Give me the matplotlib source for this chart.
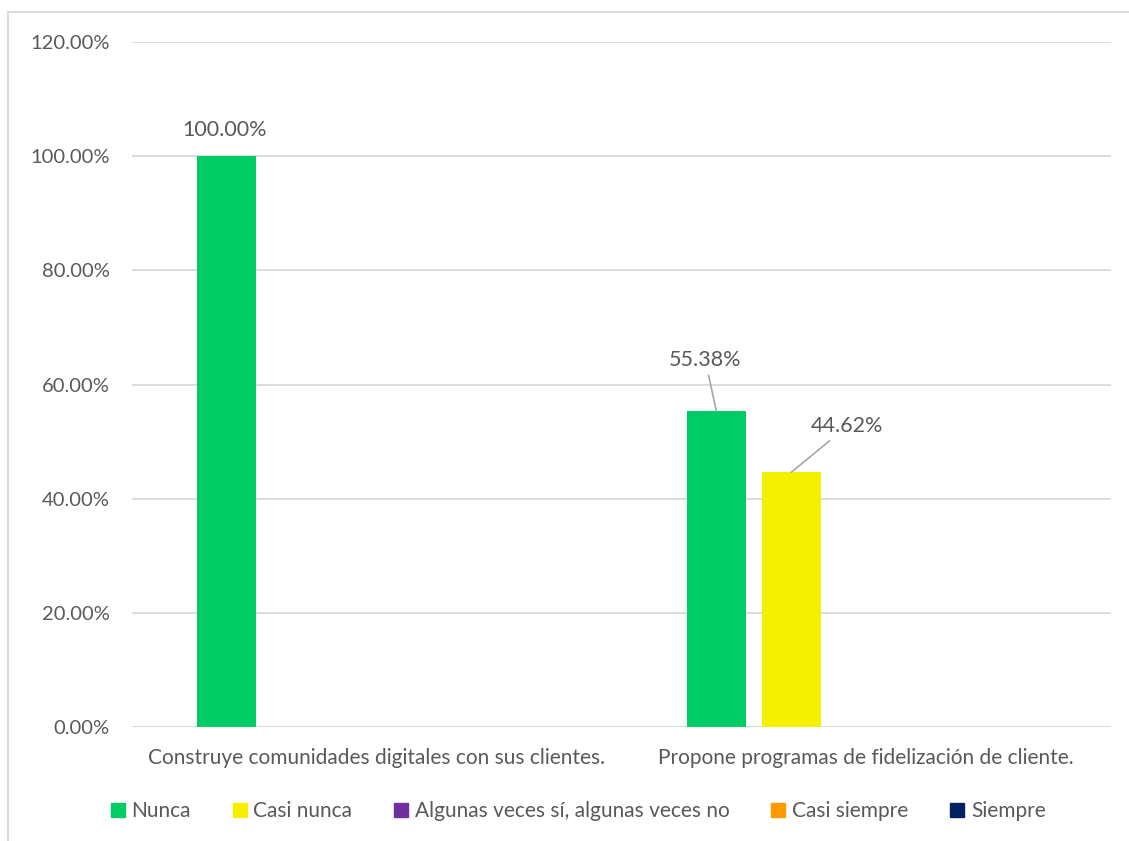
import numpy as np
import matplotlib.pyplot as plt
from matplotlib.lines import Line2D

categories = ["Construye comunidades digitales con sus clientes.",
              "Propone programas de fidelización de cliente."]
series = ["Nunca", "Casi nunca", "Algunas veces sí, algunas veces no",
          "Casi siempre", "Siempre"]
nunca = [100.00, 55.38]
casi_nunca = [0.00, 44.62]
algunas = [0.00, 0.00]
casi_siempre = [0.00, 0.00]
siempre = [0.00, 0.00]
colors = ["#00cc66", "#f5f000", "#7030a0", "#ff9900", "#002060"]
yticks = [0, 20, 40, 60, 80, 100, 120]

values = [nunca, casi_nunca, algunas, casi_siempre, siempre]
text_col = "#595959"
plt.rcParams['font.family'] = ['Lato', 'DejaVu Sans']

fig = plt.figure(figsize=(11.29, 8.41), dpi=100)
ax = fig.add_axes([132 / 1129, 1 - 727 / 841, (1111 - 132) / 1129, (727 - 42) / 841])

x = np.arange(len(categories))
width = 0.1205
step = 0.1532
bars = []
for i, (name, vals) in enumerate(zip(series, values)):
    b = ax.bar(x + (i - 2) * step, vals, width, color=colors[i], label=name, zorder=3)
    bars.append(b)

ax.set_xlim(-0.5, 1.5)
ax.set_ylim(0, 120)
ax.set_yticks(yticks)
ax.set_yticklabels([f"{v:.2f}%" for v in yticks])
ax.set_xticks(x)
ax.set_xticklabels(categories)
ax.tick_params(axis='both', length=0, colors=text_col, labelsize=15)
ax.tick_params(axis='y', labelsize=14.5, pad=16)
ax.tick_params(axis='x', pad=15)
ax.grid(axis='y', color='#d9d9d9', linewidth=1.3, zorder=0)
for s in ax.spines.values():
    s.set_visible(False)
ax.axhline(0, color='#d9d9d9', linewidth=1.3, zorder=2)

# data labels (offsets in pixels from bar tops)
offsets = {(0, 0): (-2, -26, False), (0, 1): (-11, -51, True), (1, 1): (56, -46, True)}
for (si, ci), (dx, dy, leader) in offsets.items():
    r = bars[si][ci]
    xy = (r.get_x() + r.get_width() / 2, r.get_height())
    ap = dict(arrowstyle='-', color='#a6a6a6', lw=1.2, shrinkA=2, shrinkB=0) if leader else None
    ax.annotate(f"{values[si][ci]:.2f}%", xy=xy, xytext=(dx, -dy), textcoords='offset pixels',
                ha='center', va='center', fontsize=15.5, color=text_col, arrowprops=ap)

handles = [Line2D([], [], marker='s', linestyle='none', markersize=10,
                  markerfacecolor=c, markeredgecolor=c) for c in colors]
fig.legend(handles, series, loc='center', bbox_to_anchor=(578 / 1129, 1 - 811 / 841),
           ncol=5, frameon=False, fontsize=15, handlelength=0.7, handletextpad=0.3,
           columnspacing=2.0, labelcolor=text_col)

# outer chart border
fig.add_artist(Line2D([8 / 1129, 1], [1 - 12 / 841, 1 - 12 / 841], color='#d9d9d9', lw=1.3))
fig.add_artist(Line2D([8 / 1129, 8 / 1129], [0, 1 - 12 / 841], color='#d9d9d9', lw=1.3))

fig.savefig("out.png", dpi=100)
